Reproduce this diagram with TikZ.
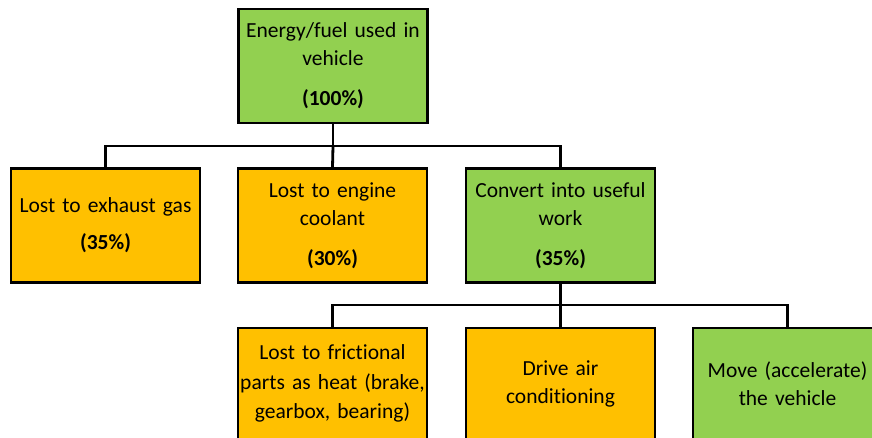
\documentclass[tikz,border=0pt]{standalone}
\usepackage{fontspec}
\setmainfont[Ligatures=NoCommon]{Carlito}
\definecolor{boxgreen}{HTML}{92D050}
\definecolor{boxorange}{HTML}{FFC000}
\begin{document}
\begin{tikzpicture}[x=1pt,y=-1pt,
  box/.style={draw=black, line width=2.8pt, minimum width=189pt, minimum height=114pt,
    text width=186pt, align=center, inner sep=0pt,
    font=\fontsize{21.5pt}{28pt}\selectfont},
  greenbox/.style={box, fill=boxgreen},
  orangebox/.style={box, fill=boxorange},
  link/.style={line width=2.8pt}]
\useasboundingbox (0,0) rectangle (872,438);
\begin{scope}
\clip (0,0) rectangle (872,438);
\node[greenbox] (top) at (333,66) {Energy/fuel used in\\vehicle\\[12pt]\textbf{(100\%)}};
\node[orangebox] (b1) at (105.5,225.5) {Lost to exhaust gas\\[9pt]\textbf{(35\%)}};
\node[orangebox] (b2) at (332.5,225.5) {Lost to engine\\coolant\\[12pt]\textbf{(30\%)}};
\node[greenbox] (b3) at (560.5,225.5) {Convert into useful\\work\\[12pt]\textbf{(35\%)}};
\node[orangebox, minimum height=111pt, font=\fontsize{21.5pt}{29.5pt}\selectfont] (c1) at (332.5,383.5) {Lost to frictional\\parts as heat (brake,\\gearbox, bearing)};
\node[orangebox, minimum height=111pt] (c2) at (560.5,383.5) {Drive air\\conditioning};
\node[greenbox, minimum height=111pt] (c3) at (787.5,383.5) {Move (accelerate)\\the vehicle};
\coordinate (j1) at (333,146);
\coordinate (j2) at (560.5,305);
\draw[link] (top.south) -- (j1);
\draw[link] (b1.north) |- (j1) -| (b3.north);
\draw[link] (j1) -- (b2.north);
\draw[link] (b3.south) -- (j2);
\draw[link] (c1.north) |- (j2) -| (c3.north);
\draw[link] (j2) -- (c2.north);
\end{scope}
\end{tikzpicture}
\end{document}
